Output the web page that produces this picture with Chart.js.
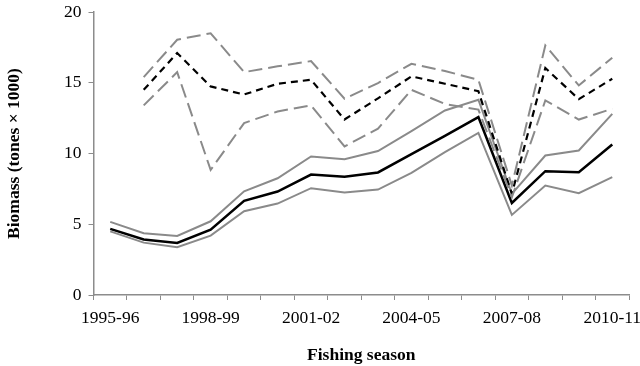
<!DOCTYPE html>
<html>
<head>
<meta charset="utf-8">
<script src="https://cdn.jsdelivr.net/npm/chart.js@4"></script>
<style>
  html, body { margin: 0; padding: 0; background: #fff; }
  #wrap { width: 640px; height: 366px; }
</style>
</head>
<body>
<div id="wrap"><canvas id="biomassChart" width="640" height="366"></canvas></div>
<script>
// fishing seasons
var seasons = ['1995-96', '1996-97', '1997-98', '1998-99', '1999-00', '2000-01', '2001-02', '2002-03',
    '2003-04', '2004-05', '2005-06', '2006-07', '2007-08', '2008-09', '2009-10', '2010-11'];

// solid lines (estimate and bounds)
var solidMid = [4.67, 3.92, 3.68, 4.62, 6.65, 7.31, 8.51, 8.35, 8.66, 9.95, 11.25, 12.57, 6.5, 8.75, 8.68, 10.64];
var solidHigh = [5.17, 4.36, 4.17, 5.21, 7.33, 8.25, 9.79, 9.6, 10.17, 11.58, 13.04, 13.8, 7.15, 9.86, 10.21, 12.8];
var solidLow = [4.5, 3.7, 3.37, 4.2, 5.92, 6.46, 7.55, 7.24, 7.45, 8.63, 10.1, 11.46, 5.66, 7.74, 7.19, 8.33];

// dashed lines (estimate and bounds), no value for the first season
var dashMid = [null, 14.5, 17.1, 14.74, 14.17, 14.93, 15.21, 12.4, 13.9, 15.45, 14.93, 14.4, 7.15, 16.04, 13.84, 15.28];
var dashHigh = [null, 15.4, 18.04, 18.5, 15.75, 16.16, 16.53, 13.87, 14.98, 16.34, 15.83, 15.21, 7.74, 17.64, 14.81, 16.77];
var dashLow = [null, 13.4, 15.75, 8.84, 12.15, 12.97, 13.4, 10.5, 11.75, 14.5, 13.5, 13.1, 6.9, 13.75, 12.4, 13.16];

var yTicks = [0, 5, 10, 15, 20];

var gray = '#8a8a8a';
var axisGray = '#8c8c8c';
var serif = "'Liberation Serif', 'Times New Roman', serif";

function line(label, data, color, width, dash) {
    return {
        label: label,
        data: data,
        borderColor: color,
        backgroundColor: color,
        borderWidth: width,
        borderDash: dash,
        pointRadius: 0,
        tension: 0,
        fill: false
    };
}

document.addEventListener('DOMContentLoaded', function () {
    var ctx = document.getElementById('biomassChart').getContext('2d');
    new Chart(ctx, {
        type: 'line',
        data: {
            labels: seasons,
            datasets: [
                line('Upper (dashed)', dashHigh, gray, 2, [14, 6]),
                line('Lower (dashed)', dashLow, gray, 2, [14, 6]),
                line('Estimate (dashed)', dashMid, '#000', 2.2, [7, 5]),
                line('Upper', solidHigh, gray, 2, []),
                line('Lower', solidLow, gray, 2, []),
                line('Estimate', solidMid, '#000', 2.5, [])
            ]
        },
        options: {
            responsive: false,
            animation: false,
            layout: { padding: { top: 0, right: 11, bottom: 0, left: 4 } },
            plugins: {
                legend: { display: false },
                tooltip: { enabled: false }
            },
            scales: {
                x: {
                    offset: true,
                    grid: {
                        offset: true,
                        drawOnChartArea: false,
                        drawTicks: true,
                        tickLength: 5,
                        color: axisGray
                    },
                    border: { display: true, color: axisGray, width: 1.5 },
                    ticks: {
                        autoSkip: false,
                        maxRotation: 0,
                        color: '#000',
                        font: { family: serif, size: 17.5 },
                        padding: 8,
                        callback: function (value, index) {
                            return index % 3 === 0 ? seasons[index] : '';
                        }
                    },
                    afterFit: function (scale) {
                        scale.paddingRight = 0;
                        scale.paddingLeft = 0;
                    },
                    title: {
                        display: true,
                        text: 'Fishing season',
                        color: '#000',
                        font: { family: serif, size: 17.5, weight: 'bold' },
                        padding: { top: 8, bottom: 0 }
                    }
                },
                y: {
                    min: 0,
                    max: 20,
                    afterBuildTicks: function (scale) {
                        scale.ticks = yTicks.map(function (v) { return { value: v }; });
                    },
                    afterFit: function (scale) {
                        scale.paddingTop = 12;
                        scale.paddingBottom = 0;
                    },
                    grid: {
                        drawOnChartArea: false,
                        drawTicks: true,
                        tickLength: 5,
                        color: axisGray
                    },
                    border: { display: true, color: axisGray, width: 1.5 },
                    ticks: {
                        color: '#000',
                        font: { family: serif, size: 17.5 },
                        padding: 7
                    },
                    title: {
                        display: true,
                        text: 'Biomass (tones × 1000)',
                        color: '#000',
                        font: { family: serif, size: 17.5, weight: 'bold' },
                        padding: { top: 0, bottom: 32 }
                    }
                }
            }
        }
    });
});
</script>
</body>
</html>
